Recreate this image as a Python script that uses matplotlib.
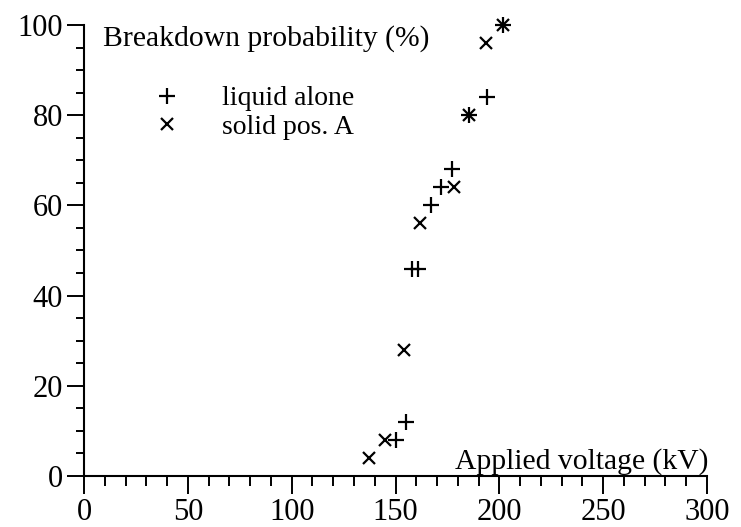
import matplotlib
matplotlib.use("Agg")
import matplotlib.pyplot as plt

plt.rcParams['font.family'] = ['Liberation Serif', 'DejaVu Serif']

# breakdown probability (%) vs applied voltage (kV)
liquid_kv = [150, 155, 158, 161, 167, 172, 177, 185.5, 194, 202]
liquid_pct = [8, 12, 46, 46, 60, 64, 68, 80, 84, 100]
solid_kv = [137, 145, 154, 162, 178, 185.5, 193.5, 202]
solid_pct = [4, 8, 28, 56, 64, 80, 96, 100]

xticks = [0, 50, 100, 150, 200, 250, 300]
yticks = [0, 20, 40, 60, 80, 100]

W, H = 741, 527
fig = plt.figure(figsize=(W / 100, H / 100), dpi=100)
ax = fig.add_axes([84 / W, 51 / H, 623 / W, 451 / H])

ax.plot(liquid_kv, liquid_pct, linestyle='none', marker='+', markersize=11,
        mew=1.6, color='black', clip_on=False, label='liquid alone')
ax.plot(solid_kv, solid_pct, linestyle='none', marker='x', markersize=9,
        mew=1.6, color='black', clip_on=False, label='solid pos. A')

ax.set_xlim(0, 300)
ax.set_ylim(0, 100)
ax.set_xticks(xticks)
ax.set_yticks(yticks)
ax.set_xticks(range(0, 301, 10), minor=True)
ax.set_yticks(range(0, 101, 5), minor=True)

for side in ('top', 'right'):
    ax.spines[side].set_visible(False)
for side in ('left', 'bottom'):
    ax.spines[side].set_linewidth(1.5)

ax.tick_params(which='both', direction='out', width=1.4, labelsize=22)
ax.tick_params(axis='x', which='major', length=13, pad=2.5)
ax.tick_params(axis='x', which='minor', length=7.5)
ax.tick_params(axis='y', which='major', length=12, pad=3)
ax.tick_params(axis='y', which='minor', length=6)

ax.text(9, 97, 'Breakdown probability (%)', fontsize=21.3,
        ha='left', va='center')
ax.text(300.5, 3.3, 'Applied voltage (kV)', fontsize=21.3,
        ha='right', va='center')

ax.legend(loc='upper left', bbox_to_anchor=(153 / W, 1 - 86 / H),
          bbox_transform=fig.transFigure, frameon=False, fontsize=20,
          handlelength=1.0, handletextpad=1.5, labelspacing=0.1,
          borderpad=0, borderaxespad=0)

fig.savefig('out.png', dpi=100)
